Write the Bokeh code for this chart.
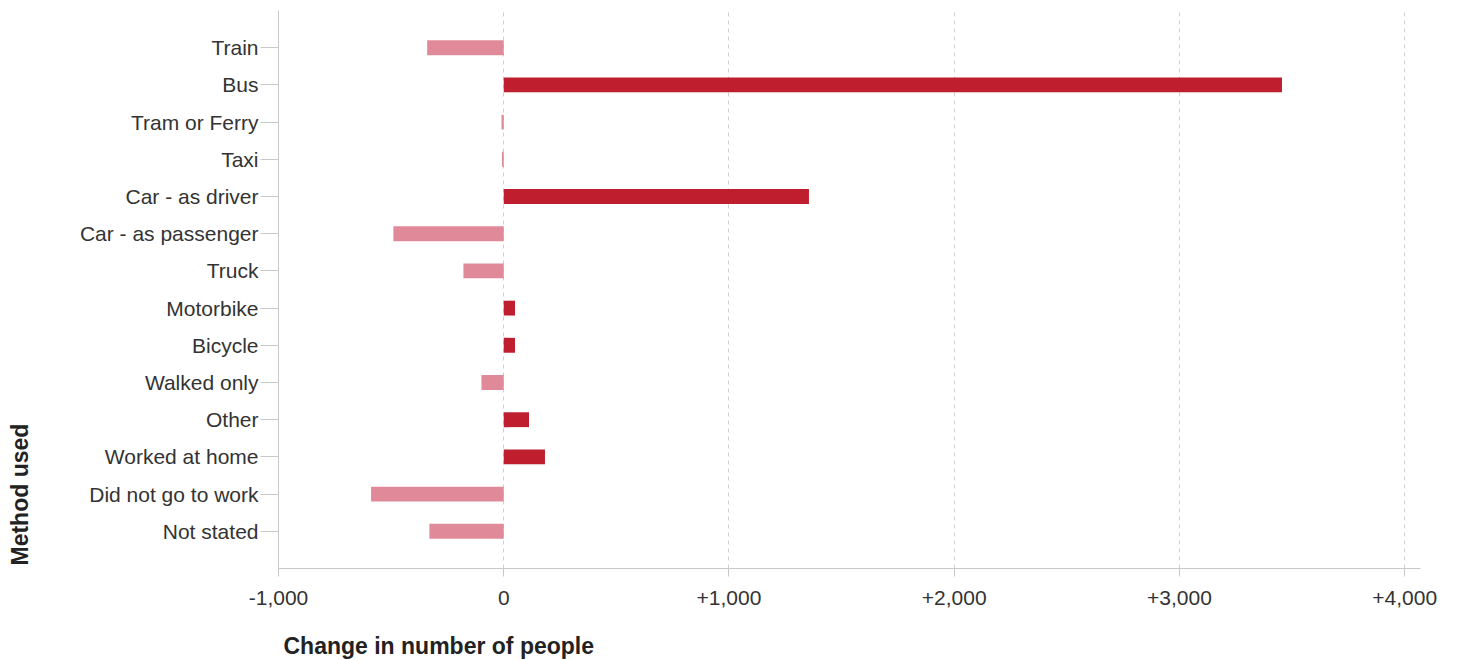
from bokeh.plotting import figure
from bokeh.models import (ColumnDataSource, FactorRange, Range1d, FixedTicker,
                          CustomJSTickFormatter, Title)
from bokeh.embed import file_html
from bokeh.resources import INLINE

methods = ["Train", "Bus", "Tram or Ferry", "Taxi", "Car - as driver",
           "Car - as passenger", "Truck", "Motorbike", "Bicycle", "Walked only",
           "Other", "Worked at home", "Did not go to work", "Not stated"]
change = [-340, 3455, -10, -8, 1355, -490, -179, 50, 50, -99, 112, 183, -589, -330]
x_ticks = [-1000, 0, 1000, 2000, 3000, 4000]

POS = "#be1e2d"
NEG = "#e08a99"
colors = [POS if v > 0 else NEG for v in change]

src = ColumnDataSource(dict(method=methods, change=change, color=colors))

FONT = "Liberation Sans"

p = figure(width=1457, height=660, output_backend="svg", toolbar_location=None,
           y_range=FactorRange(factors=list(reversed(methods)), range_padding=0.5,
                               range_padding_units="absolute"),
           x_range=Range1d(-1000, 4070))
p.min_border_left = 278
p.min_border_right = 37
p.min_border_top = 10
p.min_border_bottom = 90
p.outline_line_color = None
p.background_fill_color = "white"
p.border_fill_color = "white"

p.hbar(y="method", right="change", left=0, height=0.4, fill_color="color",
       line_color=None, source=src)

p.xaxis.ticker = FixedTicker(ticks=x_ticks)
p.xaxis.formatter = CustomJSTickFormatter(code="""
const s = Math.abs(tick).toLocaleString('en-US');
return tick > 0 ? '+' + s : (tick < 0 ? '-' + s : '0');
""")
p.xgrid.grid_line_color = "#cfcfcf"
p.xgrid.grid_line_dash = "4 4"
p.ygrid.grid_line_color = None

for ax in (p.xaxis, p.yaxis):
    ax.axis_line_color = "#c8c8c8"
    ax.major_tick_line_color = "#c8c8c8"
    ax.minor_tick_line_color = None
    ax.major_tick_in = 0
    ax.major_label_text_font = FONT
    ax.major_label_text_font_size = "21px"
    ax.major_label_text_color = "#333333"

p.yaxis.major_tick_out = 18
p.yaxis.major_label_standoff = 2
p.xaxis.major_tick_out = 8
p.xaxis.major_label_standoff = 14

# spacers between axes and axis titles
p.add_layout(Title(text=" ", text_font_size="1px", standoff=22), "below")
p.add_layout(Title(text="Change in number of people", align="left", offset=5,
                   vertical_align="top", standoff=0,
                   text_font=FONT, text_font_size="23px", text_font_style="bold",
                   text_color="#222222"), "below")
p.add_layout(Title(text=" ", text_font_size="1px", standoff=37), "left")
p.add_layout(Title(text="Method used", align="left", offset=3, standoff=8,
                   text_font=FONT, text_font_size="23px", text_font_style="bold",
                   text_color="#222222"), "left")

open("out.html", "w").write(file_html(p, INLINE))
